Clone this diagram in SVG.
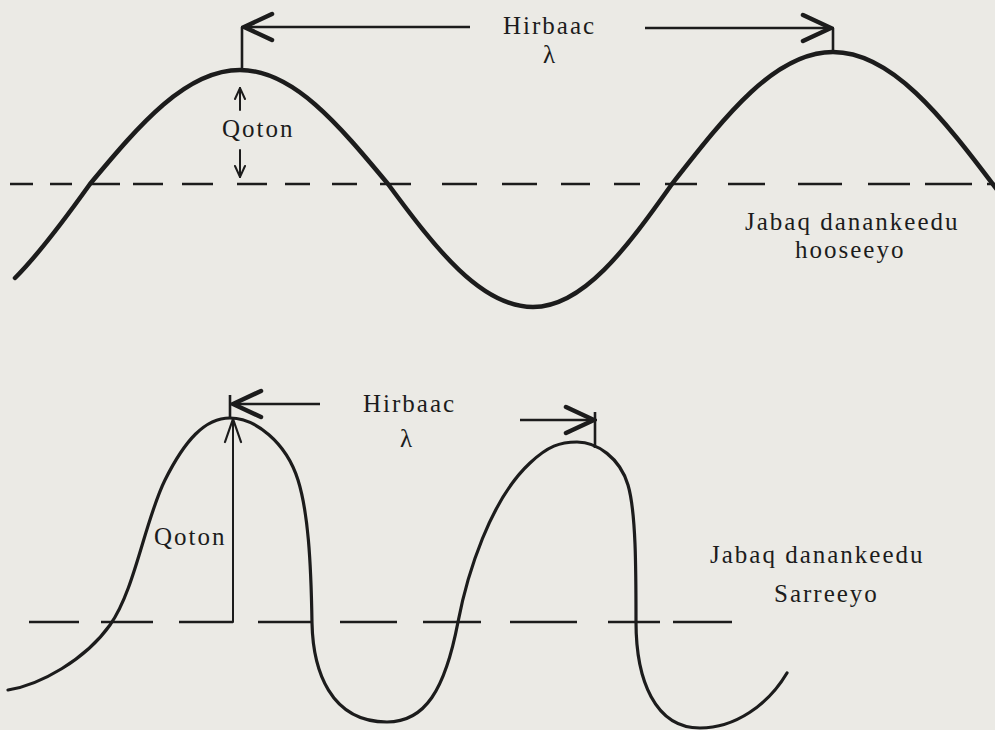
<svg xmlns="http://www.w3.org/2000/svg" width="995" height="730" viewBox="0 0 995 730">
<style>
.bg{fill:#ebeae5}
.wave{fill:none;stroke:#1c1c1c;stroke-linecap:round;stroke-linejoin:round}
.axis{fill:none;stroke:#1c1c1c;stroke-width:2.6;stroke-linecap:butt}
.ln{fill:none;stroke:#1c1c1c;stroke-width:2.6;stroke-linecap:butt}
.thin{fill:none;stroke:#1c1c1c;stroke-width:2;stroke-linecap:round;stroke-linejoin:round}
.lbl{font-family:"Liberation Serif","Times New Roman",serif;font-size:25px;letter-spacing:2px;fill:#1c1c1c}
</style>
<defs>
<marker id="big" viewBox="0 0 34 34" refX="32" refY="17" markerWidth="34" markerHeight="34" markerUnits="userSpaceOnUse" orient="auto">
<path d="M3,4 L31,17 L3,30" fill="none" stroke="#1c1c1c" stroke-width="4.5" stroke-linejoin="miter" stroke-linecap="round"/>
</marker>
<marker id="small" viewBox="0 0 14 14" refX="13" refY="7" markerWidth="14" markerHeight="14" markerUnits="userSpaceOnUse" orient="auto">
<path d="M2,2 L13,7 L2,12" fill="none" stroke="#1c1c1c" stroke-width="2" stroke-linecap="round"/>
</marker>
<marker id="vee" viewBox="0 0 26 20" refX="25" refY="10" markerWidth="26" markerHeight="20" markerUnits="userSpaceOnUse" orient="auto">
<path d="M2,2 L25,10 L2,18" fill="none" stroke="#1c1c1c" stroke-width="2.2" stroke-linecap="round"/>
</marker>
</defs>
<rect class="bg" x="0" y="0" width="995" height="730"/>

<g id="top-diagram">
<g id="top-axis">
<path class="axis" d="M10,184H33M50,184H72M90,184H120M133,184H163M182,184H213M237,184H267M285,184H310M332,184H357M380,184H411M442,184H477M502,184H537M561,184H590M614,184H640M665,184H697M728,184H765M798,184H842M868,184H910M925,184H972M987,184H995"/>
</g>
<g id="top-wave">
<path class="wave" stroke-width="4.5" d="M15,278 C40,253 65,219 90,184 C140,124 186,70 240,70 C293,70 338,124 388,184 C436,249 481,307 533,307 C583,307 626,249 672,184 C726,115 775,52 833,52 C891,52 941,115 998,191"/>
</g>
<g id="top-labels">
<text class="lbl" x="503" y="34">Hirbaac</text>
<text class="lbl" x="543" y="63">λ</text>
<text class="lbl" x="222" y="137">Qoton</text>
<text class="lbl" x="745" y="230">Jabaq danankeedu</text>
<text class="lbl" x="795" y="258">hooseeyo</text>
</g>
</g>

<g id="bottom-diagram">
<g id="bottom-axis">
<path class="axis" d="M29,622H79M101,622H153M179,622H233M258,622H312M340,622H397M423,622H481M510,622H577M608,622H660M673,622H732"/>
</g>
<g id="bottom-wave">
<path class="wave" stroke-width="3.2" d="M8,690 C40,685 85,660 110,625 C135,590 145,520 165,480 C185,440 205,418 230,418 C255,418 286,442 298,480 C308,512 311,560 312,623 C313,670 330,722 387,722 C425,722 445,690 458,622 C467,575 490,500 530,463 C548,446 560,442 577,442 C597,442 620,458 628,485 C636,512 636,570 636,622 C636,680 655,728 700,728 C735,728 768,705 787,673"/>
</g>
<g id="bottom-labels">
<text class="lbl" x="363" y="412">Hirbaac</text>
<text class="lbl" x="400" y="447">λ</text>
<text class="lbl" x="154" y="545">Qoton</text>
<text class="lbl" x="710" y="563">Jabaq danankeedu</text>
<text class="lbl" x="774" y="602">Sarreeyo</text>
</g>
</g>

<g id="connectors">
<path class="ln" d="M242,27V70"/>
<path class="ln" d="M470,27H243" marker-end="url(#big)"/>
<path class="ln" d="M833,28V52"/>
<path class="ln" d="M645,28H832" marker-end="url(#big)"/>
<path class="thin" d="M240,110V88" marker-end="url(#small)"/>
<path class="thin" d="M240,150V177" marker-end="url(#small)"/>
<path class="ln" d="M230,395V418"/>
<path class="ln" d="M320,404H232" marker-end="url(#big)"/>
<path class="ln" d="M595,412V448"/>
<path class="ln" d="M520,420H595" marker-end="url(#big)"/>
<path class="thin" d="M233,622V419" marker-end="url(#vee)"/>
</g>
</svg>
